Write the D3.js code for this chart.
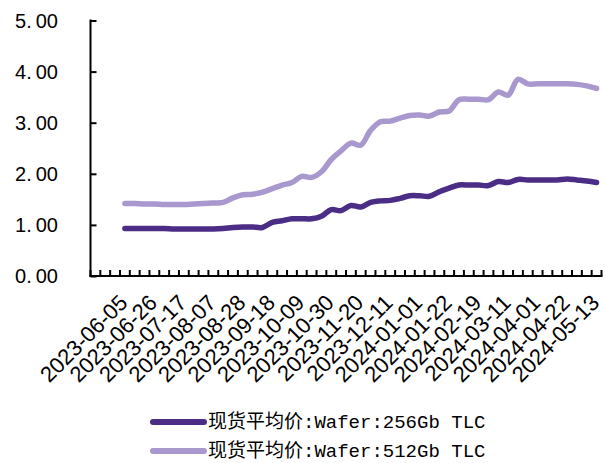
<!DOCTYPE html>
<html>
<head>
<meta charset="utf-8">
<script src="https://cdn.jsdelivr.net/npm/d3@7/dist/d3.min.js"></script>
<style>
  html, body { margin: 0; padding: 0; background: #fff; }
  svg { display: block; }
</style>
</head>
<body>
<svg id="chart" width="605" height="463"></svg>
<script>
// Weekly spot prices (USD), NAND wafers
const dates = [
  "2023-06-05","2023-06-12","2023-06-19","2023-06-26","2023-07-03","2023-07-10","2023-07-17",
  "2023-07-24","2023-07-31","2023-08-07","2023-08-14","2023-08-21","2023-08-28","2023-09-04",
  "2023-09-11","2023-09-18","2023-09-25","2023-10-02","2023-10-09","2023-10-16","2023-10-23",
  "2023-10-30","2023-11-06","2023-11-13","2023-11-20","2023-11-27","2023-12-04","2023-12-11",
  "2023-12-18","2023-12-25","2024-01-01","2024-01-08","2024-01-15","2024-01-22","2024-01-29",
  "2024-02-05","2024-02-19","2024-02-26","2024-03-04","2024-03-11","2024-03-18","2024-03-25",
  "2024-04-01","2024-04-08","2024-04-15","2024-04-22","2024-04-29","2024-05-06","2024-05-13"
];

const wafer256 = [
  0.93,0.93,0.93,0.93,0.93,0.92,0.92,0.92,0.92,0.92,0.93,0.95,0.96,0.96,0.95,1.05,1.08,
  1.12,1.12,1.12,1.17,1.30,1.28,1.38,1.35,1.44,1.47,1.48,1.52,1.57,1.57,1.56,1.65,1.72,
  1.78,1.78,1.78,1.77,1.85,1.83,1.89,1.88,1.88,1.88,1.88,1.90,1.88,1.86,1.83
];

const wafer512 = [
  1.42,1.42,1.41,1.41,1.40,1.40,1.40,1.41,1.42,1.43,1.44,1.53,1.59,1.60,1.64,1.71,1.78,
  1.83,1.95,1.93,2.04,2.28,2.45,2.60,2.56,2.85,3.02,3.03,3.09,3.14,3.15,3.13,3.21,3.23,
  3.45,3.46,3.46,3.45,3.60,3.54,3.85,3.76,3.76,3.76,3.76,3.76,3.75,3.72,3.67
];

const seriesNames = ["现货平均价:Wafer:256Gb TLC", "现货平均价:Wafer:512Gb TLC"];
const seriesColors = ["#4b2d86", "#a898cd"];
const yTicks = [0, 1, 2, 3, 4, 5];

// The category axis carries three empty slots ahead of the first week;
// every third slot gets a label.
const leadSlots = 3;
const labelEvery = 3;

const svg = d3.select("#chart");
const plot = { left: 90.5, right: 601.5, top: 20.5, bottom: 276 };

const slots = d3.range(leadSlots).map(i => `empty-${i}`).concat(dates);

const x = d3.scaleBand()
  .domain(slots)
  .range([plot.left, plot.right])
  .paddingInner(0)
  .paddingOuter(0);

const y = d3.scaleLinear()
  .domain([0, 5])
  .range([plot.bottom, plot.top]);

const cx = d => x(d) + x.bandwidth() / 2;

// Y axis
const yAxis = svg.append("g")
  .attr("transform", `translate(${plot.left},0)`)
  .call(d3.axisRight(y).tickValues(yTicks).tickSize(6).tickFormat(""));
yAxis.select(".domain").remove();
yAxis.selectAll(".tick line").attr("stroke", "#000").attr("stroke-width", 2);

svg.append("line")
  .attr("x1", plot.left).attr("x2", plot.left)
  .attr("y1", y(5) - 1).attr("y2", plot.bottom + 1)
  .attr("stroke", "#000").attr("stroke-width", 2);

const yLabels = svg.append("g")
  .attr("font-family", "'Liberation Sans', Arial, sans-serif")
  .attr("font-size", 20)
  .attr("fill", "#000");

yTicks.forEach(v => {
  const parts = d3.format(".2f")(v).split(".");
  const t = yLabels.append("text")
    .attr("x", 58)
    .attr("y", y(v))
    .attr("dy", "0.36em")
    .attr("text-anchor", "end");
  t.append("tspan").text(parts[0] + ".");
  t.append("tspan").attr("dx", 4).text(parts[1]);
});

// X axis: ticks between categories, pointing up into the plot
const tickPositions = slots.map(s => x(s)).concat([plot.right]);
svg.append("g")
  .selectAll("line")
  .data(tickPositions)
  .join("line")
  .attr("x1", d => d).attr("x2", d => d)
  .attr("y1", plot.bottom).attr("y2", plot.bottom - 6)
  .attr("stroke", "#000").attr("stroke-width", 2);

svg.append("line")
  .attr("x1", plot.left - 1).attr("x2", plot.right + 1)
  .attr("y1", plot.bottom).attr("y2", plot.bottom)
  .attr("stroke", "#000").attr("stroke-width", 2);

const labelled = dates.filter((d, i) => (i + leadSlots) % labelEvery === 0);
svg.append("g")
  .attr("font-family", "'Liberation Sans', Arial, sans-serif")
  .attr("font-size", 22)
  .attr("fill", "#000")
  .selectAll("text")
  .data(labelled)
  .join("text")
  .attr("transform", d => `translate(${cx(d) + 4},${304}) rotate(-45)`)
  .attr("text-anchor", "end")
  .text(d => d);

// Lines
const line = d3.line()
  .x(d => cx(d.date))
  .y(d => y(d.value))
  .curve(d3.curveCatmullRom.alpha(0.5));

[wafer512, wafer256].forEach((vals, k) => {
  const idx = k === 0 ? 1 : 0;
  svg.append("path")
    .datum(dates.map((d, i) => ({ date: d, value: vals[i] })))
    .attr("fill", "none")
    .attr("stroke", seriesColors[idx])
    .attr("stroke-width", 5.5)
    .attr("stroke-linecap", "round")
    .attr("stroke-linejoin", "round")
    .attr("d", line);
});

// Legend
const legend = svg.append("g");
const legendY = [422, 451];
seriesNames.forEach((name, i) => {
  legend.append("line")
    .attr("x1", 153).attr("x2", 204)
    .attr("y1", legendY[i]).attr("y2", legendY[i])
    .attr("stroke", seriesColors[i])
    .attr("stroke-width", 6)
    .attr("stroke-linecap", "round");
  legend.append("text")
    .attr("x", 208)
    .attr("y", legendY[i])
    .attr("dy", "0.34em")
    .attr("font-family", "'Liberation Mono', 'Noto Sans CJK SC', monospace")
    .attr("font-size", 19)
    .attr("fill", "#000")
    .text(name);
});
</script>
</body>
</html>
